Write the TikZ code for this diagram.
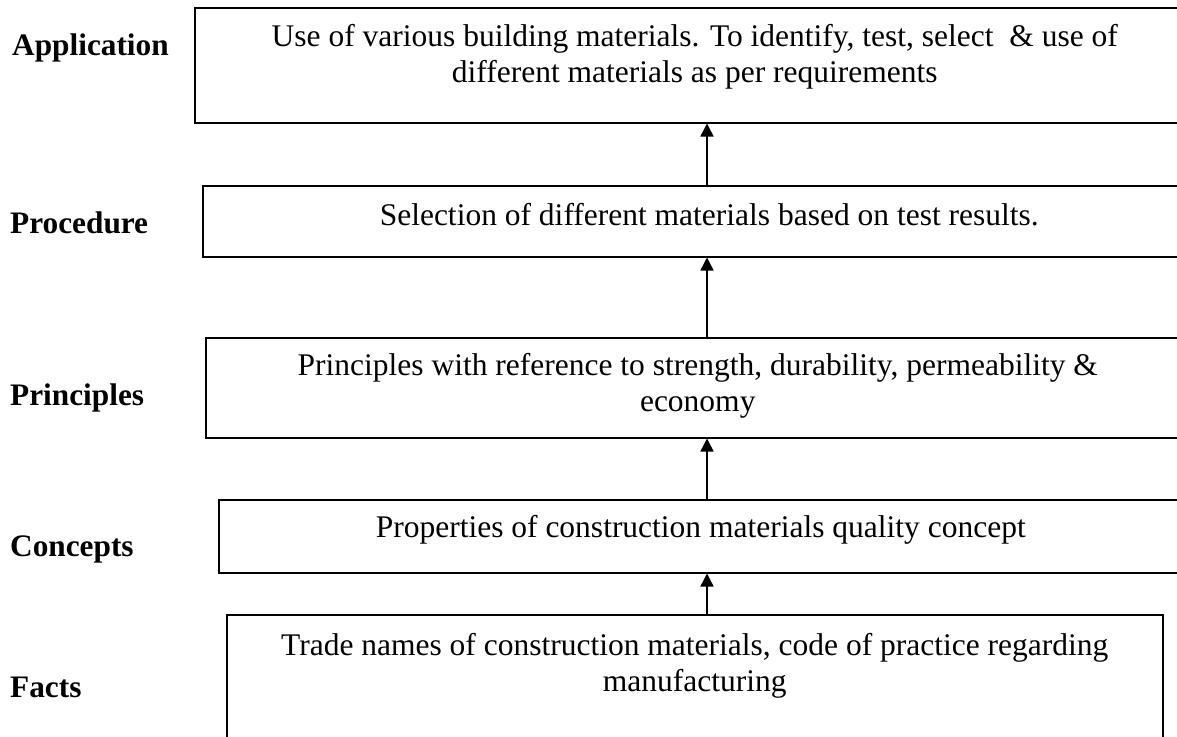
\documentclass[tikz,border=0pt]{standalone}
\usepackage{fontspec}
\setmainfont{Liberation Serif}
\usepackage{tikz}
\usetikzlibrary{arrows.meta,positioning}
\tikzset{
  level/.style={anchor=base west, inner sep=0pt, font=\fontsize{31.3}{36}\selectfont\bfseries},
  stage/.style={draw, line width=1.5pt, anchor=north west, inner sep=0pt},
  stagetext/.style={align=center, inner sep=0pt, font=\fontsize{31.5}{36}\selectfont},
  up/.style={-{Triangle[length=13pt,width=13pt]}, line width=1.5pt}
}

\begin{document}
\begin{tikzpicture}[x=1pt, y=-1pt]
  \useasboundingbox (0,0) rectangle (1177,736);
  \clip (0,0) rectangle (1177,736);

  % levels on the left
  \node[level] (lapp)  at (12,55)  {Application};
  \node[level] (lproc) at (10,233) {Procedure};
  \node[level] (lprin) at (10,405) {Principles};
  \node[level] (lconc) at (10,556) {Concepts};
  \node[level] (lfact) at (10,697) {Facts};

  % boxes
  \node[stage, minimum width=1000pt, minimum height=115pt] (app)  at (194,7)   {};
  \node[stage, minimum width=1013pt, minimum height=71pt]  (proc) at (202,185) {};
  \node[stage, minimum width=984pt,  minimum height=100pt] (prin) at (205,337) {};
  \node[stage, minimum width=964pt,  minimum height=73pt]  (conc) at (218,499) {};
  \node[stage, minimum width=936pt,  minimum height=150pt] (fact) at (226,614) {};

  \node[stagetext, below=17pt of app.north] (tapp)
    {Use of various building materials. To identify, test, select\ \ \& use of\\
     different materials as per requirements};
  \node[stagetext, below=18pt of proc.north] (tproc)
    {Selection of different materials based on test results.};
  \node[stagetext, below=16pt of prin.north] (tprin)
    {Principles with reference to strength, durability, permeability \&\\
     economy};
  \node[stagetext, below=16pt of conc.north] (tconc)
    {Properties of construction materials quality concept};
  \node[stagetext, below=19pt of fact.north] (tfact)
    {Trade names of construction materials, code of practice regarding\\
     manufacturing};

  % arrows
  \coordinate (ax) at (707,0);
  \draw[up] (fact.north -| ax) -- (conc.south -| ax);
  \draw[up] (conc.north -| ax) -- (prin.south -| ax);
  \draw[up] (prin.north -| ax) -- (proc.south -| ax);
  \draw[up] (proc.north -| ax) -- (app.south -| ax);
\end{tikzpicture}
\end{document}
